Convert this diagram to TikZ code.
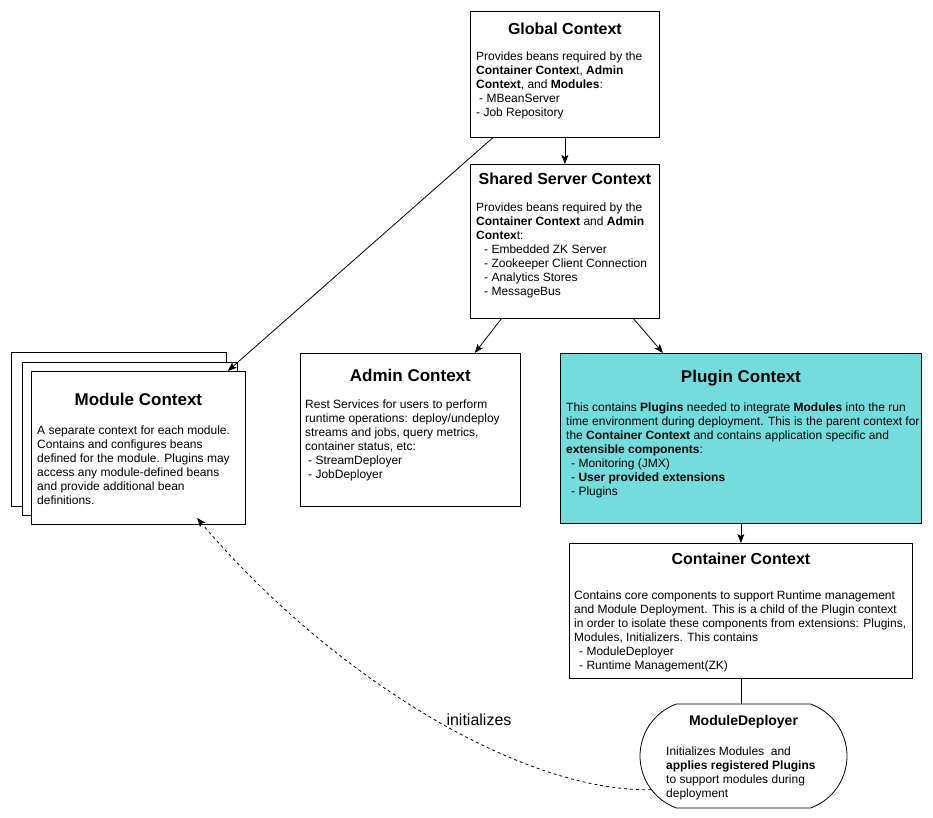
\documentclass[tikz,border=0pt]{standalone}
\usepackage{fontspec}
\setmainfont{Liberation Sans}
\usetikzlibrary{calc,arrows.meta,shapes.misc}

\definecolor{plugincyan}{RGB}{115,220,220}

\tikzset{
  ctxbox/.style={draw, line width=0.8pt, fill=white, anchor=north west, inner sep=0pt},
  ctxtitle/.style={anchor=base, inner sep=0pt, font=\fontsize{16}{19}\selectfont\bfseries},
  bigtitle/.style={ctxtitle, font=\fontsize{17}{20}\selectfont\bfseries},
  ctxbody/.style={anchor=north west, align=left, inner sep=0pt, font=\fontsize{12}{14}\selectfont},
  link/.style={line width=0.8pt, -{Stealth[length=9pt,width=7pt,inset=2pt]}},
}

\begin{document}
\begin{tikzpicture}[x=1pt, y=-1pt]
    \useasboundingbox (0,0) rectangle (933,818);

    % Contexts
    \node[ctxbox, minimum width=189pt, minimum height=126pt] (global) at (470,11) {};
    \node[ctxtitle] (globaltitle) at ($(global.north)+(0,23.5)$) {Global Context};
    \node[ctxbody] (globalbody) at ($(global.north west)+(6,41)$) {Provides beans required by the\\
        \textbf{Container Contex}t, \textbf{Admin}\\
        \textbf{Context}, and \textbf{Modules}:\\
        \hspace{3pt}- MBeanServer\\
        - Job Repository};

    \node[ctxbox, minimum width=189pt, minimum height=154pt] (shared) at (470,164) {};
    \node[ctxtitle] (sharedtitle) at ($(shared.north)+(0,21)$) {Shared Server Context};
    \node[ctxbody] (sharedbody) at ($(shared.north west)+(6,38.3)$) {Provides beans required by the\\
        \textbf{Container Context} and \textbf{Admin}\\
        \textbf{Contex}t:\\
        \hspace{8pt}- Embedded ZK Server\\
        \hspace{8pt}- Zookeeper Client Connection\\
        \hspace{8pt}- Analytics Stores\\
        \hspace{8pt}- MessageBus};

    \node[ctxbox, minimum width=215pt, minimum height=154pt] (modback) at (11,352) {};
    \node[ctxbox, minimum width=215pt, minimum height=153pt] (modmid) at (22,362) {};
    \node[ctxbox, minimum width=214pt, minimum height=153pt] (module) at (31,371) {};
    \node[bigtitle] (moduletitle) at ($(module.north)+(0,34.7)$) {Module Context};
    \node[ctxbody] (modulebody) at ($(module.north west)+(6,54.3)$) {A separate context for each module.\\
        Contains and configures beans\\
        defined for the module. Plugins may\\
        access any module-defined beans\\
        and provide additional bean\\
        definitions.};

    \node[ctxbox, minimum width=220pt, minimum height=153pt] (admin) at (300,353) {};
    \node[bigtitle] (admintitle) at ($(admin.north)+(0,28.7)$) {Admin Context};
    \node[ctxbody] (adminbody) at ($(admin.north west)+(5,47)$) {Rest Services for users to perform\\
        runtime operations: deploy/undeploy\\
        streams and jobs, query metrics,\\
        container status, etc:\\
        \hspace{3pt}- StreamDeployer\\
        \hspace{3pt}- JobDeployer};

    \node[ctxbox, fill=plugincyan, minimum width=361pt, minimum height=170pt] (plugin) at (560,353) {};
    \node[bigtitle] (plugintitle) at ($(plugin.north)+(0,29.3)$) {Plugin Context};
    \node[ctxbody] (pluginbody) at ($(plugin.north west)+(6,49.3)$) {This contains \textbf{Plugins} needed to integrate \textbf{Modules} into the run\\
        time environment during deployment. This is the parent context for\\
        the \textbf{Container Context} and contains application specific and\\
        \textbf{extensible components}:\\
        \hspace{5pt}- Monitoring (JMX)\\
        \hspace{5pt}- \textbf{User provided extensions}\\
        \hspace{5pt}- Plugins};

    \node[ctxbox, minimum width=343pt, minimum height=135pt] (container) at (569,543) {};
    \node[ctxtitle] (containertitle) at ($(container.north)+(0,21.5)$) {Container Context};
    \node[ctxbody] (containerbody) at ($(container.north west)+(5,47.3)$) {Contains core components to support Runtime management\\
        and Module Deployment. This is a child of the Plugin context\\
        in order to isolate these components from extensions: Plugins,\\
        Modules, Initializers. This contains\\
        \hspace{5pt}- ModuleDeployer\\
        \hspace{5pt}- Runtime Management(ZK)};

    % Deployer
    \node[draw, line width=0.8pt, rounded rectangle, rounded rectangle arc length=140,
          minimum width=207pt, minimum height=104pt, inner sep=0pt] (deployer) at (743.5,756) {};
    \node[ctxtitle, font=\fontsize{14}{17}\selectfont\bfseries] (deployertitle) at ($(deployer.north)+(0,21.7)$) {ModuleDeployer};
    \node[ctxbody] (deployerbody) at (666,746.3) {Initializes Modules\ \ and\\
        \textbf{applies registered Plugins}\\
        to support modules during\\
        deployment};

    %Arrows
    \draw[link] (global.south) -- (shared.north);
    \draw[link] ($(global.south west)!0.12!(global.south east)$) -- ($(module.north east)+(-18,0)$);
    \draw[link] ($(shared.south west)!0.165!(shared.south east)$) -- ($(admin.north east)+(-46,0)$);
    \draw[link] ($(shared.south west)!0.862!(shared.south east)$) -- ($(plugin.north west)+(103,0)$);
    \draw[link] (plugin.south) -- (container.north);
    \draw[line width=0.8pt] (container.south) -- (container.south |- deployer.north);

    \coordinate (inittip) at (197,518);
    \draw[link, dash pattern=on 3pt off 3pt] (deployer.200) .. controls (520,792) and (330,675) .. (inittip);
    \node[anchor=base, font=\fontsize{16}{19}\selectfont, inner sep=0pt] (initlabel) at (479,725.5) {initializes};
\end{tikzpicture}
\end{document}
